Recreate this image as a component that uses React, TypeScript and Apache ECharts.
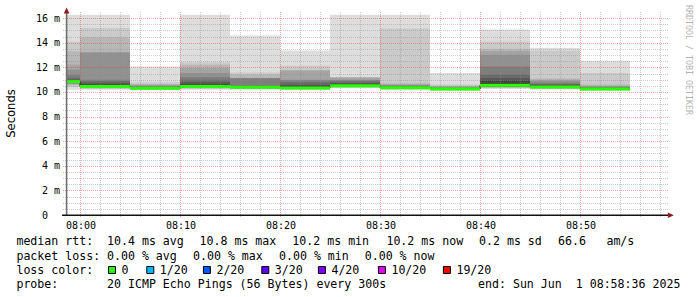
import React, { useEffect, useRef } from 'react';
import * as echarts from 'echarts';

// time in minutes relative to 08:00
const X_MIN = -1.4; // 07:58:36
const X_MAX = 58.6; // 08:58:36
const Y_MAX = 16.5; // ms

const blockStart = [-5, 0, 5, 10, 15, 20, 25, 30, 35, 40, 45, 50];
const blockLen = 5;
const medianRtt = [10.84, 10.45, 10.3, 10.45, 10.38, 10.33, 10.5, 10.35, 10.24, 10.55, 10.4, 10.24];

// sorted ping values per block: upper half (outermost first), lower half (outermost first)
const upperPings: number[][] = [
  [16.28, 14.1, 13.3, 12.22, 11.8, 11.4, 11.15, 11.0, 10.95, 10.9],
  [16.28, 15.2, 14.44, 13.22, 13.2, 11.0, 10.9, 10.73, 10.6, 10.5],
  [12.08, 10.78, 10.65, 10.59, 10.52, 10.46, 10.42, 10.38, 10.35, 10.33],
  [16.28, 12.41, 12.22, 11.95, 11.54, 11.22, 11.0, 10.78, 10.6, 10.5],
  [14.58, 11.59, 11.41, 11.14, 11.13, 11.12, 10.51, 10.48, 10.46, 10.44],
  [13.38, 12.14, 11.76, 11.74, 11.0, 10.95, 10.8, 10.59, 10.5, 10.42],
  [16.28, 11.22, 11.2, 11.15, 11.0, 10.95, 10.86, 10.73, 10.65, 10.58],
  [16.28, 15.15, 10.7, 10.62, 10.55, 10.5, 10.46, 10.43, 10.4, 10.38],
  [11.54, 10.6, 10.5, 10.44, 10.4, 10.35, 10.32, 10.29, 10.27, 10.26],
  [15.07, 14.11, 13.5, 13.33, 13.03, 12.08, 11.41, 11.14, 10.92, 10.7],
  [13.58, 13.38, 11.1, 11.0, 10.9, 10.75, 10.65, 10.59, 10.5, 10.45],
  [12.54, 11.54, 10.6, 10.5, 10.44, 10.4, 10.35, 10.31, 10.28, 10.26],
];
const lowerPings: number[][] = [
  [10.19, 10.41, 10.55, 10.62, 10.68, 10.72, 10.75, 10.78, 10.8, 10.83],
  [10.19, 10.25, 10.3, 10.33, 10.36, 10.38, 10.4, 10.42, 10.43, 10.44],
  [10.15, 10.18, 10.2, 10.22, 10.24, 10.25, 10.26, 10.27, 10.28, 10.29],
  [10.19, 10.25, 10.3, 10.33, 10.36, 10.38, 10.4, 10.42, 10.43, 10.44],
  [10.19, 10.25, 10.28, 10.3, 10.31, 10.32, 10.33, 10.34, 10.35, 10.36],
  [10.15, 10.2, 10.23, 10.25, 10.27, 10.28, 10.29, 10.3, 10.31, 10.32],
  [10.3, 10.35, 10.38, 10.4, 10.42, 10.44, 10.45, 10.46, 10.47, 10.48],
  [10.18, 10.22, 10.25, 10.27, 10.29, 10.3, 10.31, 10.32, 10.33, 10.34],
  [10.1, 10.13, 10.15, 10.17, 10.19, 10.2, 10.21, 10.22, 10.23, 10.24],
  [10.24, 10.3, 10.35, 10.38, 10.4, 10.42, 10.44, 10.46, 10.48, 10.5],
  [10.2, 10.24, 10.27, 10.3, 10.32, 10.34, 10.35, 10.36, 10.37, 10.38],
  [10.1, 10.13, 10.15, 10.17, 10.19, 10.2, 10.21, 10.22, 10.23, 10.24],
];

const xMajorTicks = [0, 10, 20, 30, 40, 50];
const xTickLabels = ['08:00', '08:10', '08:20', '08:30', '08:40', '08:50'];
const xMinorStep = 2;
const yMinorStep = 0.5;
const yMajorStep = 2;

const rttLabels = ['median rtt:', '10.4 ms avg', '10.8 ms max', '10.2 ms min', '10.2 ms now', '0.2 ms sd', '66.6', 'am/s'];
const lossLabels = ['packet loss:', '0.00 % avg', '0.00 % max', '0.00 % min', '0.00 % now'];
const lossColorNames = ['0', '1/20', '2/20', '3/20', '4/20', '10/20', '19/20'];
const lossColors = ['#26ff00', '#00b8ff', '#0059ff', '#5e00ff', '#7e00ff', '#dd00ff', '#ff0000'];
const probeLabels = ['probe:', '20 ICMP Echo Pings (56 Bytes) every 300s', 'end: Sun Jun  1 08:58:36 2025'];

const MONO = '"DejaVu Sans Mono", monospace';
const SANS = '"DejaVu Sans", sans-serif';
const MINOR = 'rgba(140,140,140,0.45)';
const MAJOR = 'rgba(230,60,60,0.45)';
const ARROW = '#8e1a1a';

function grey(level: number) {
  const c = Math.floor((190 / 10) * (10 - level)) + 50;
  const h = c.toString(16).padStart(2, '0');
  return '#' + h + h + h;
}

function buildOption() {
  const smoke: number[][] = [];
  const green: number[][] = [];
  const medLine: number[][] = [];
  blockStart.forEach((s, b) => {
    const x0 = Math.max(s, X_MIN);
    const x1 = Math.min(s + blockLen, X_MAX);
    for (let i = 0; i < 10; i++) {
      smoke.push([x0, x1, lowerPings[b][i], upperPings[b][i], i + 1]);
    }
    green.push([x0, x1, medianRtt[b]]);
    medLine.push([x0, medianRtt[b]]);
    medLine.push([x1, medianRtt[b]]);
  });

  const gridData: number[][] = [];
  for (let m = 0; m <= X_MAX; m += xMinorStep) {
    gridData.push([0, m, m % 10 === 0 ? 1 : 0]);
  }
  for (let k = 1; k * yMinorStep <= 16; k++) {
    const v = k * yMinorStep;
    gridData.push([1, v, v % yMajorStep === 0 ? 1 : 0]);
  }

  const textEl = (text: string, x: number, y: number, extra: any = {}) => ({
    type: 'text',
    x,
    y,
    z: 20,
    style: {
      text,
      fontFamily: MONO,
      fontSize: 11.6,
      fill: '#000',
      align: 'left',
      verticalAlign: 'middle',
      ...extra,
    },
  });

  const L1 = 241, L2 = 255.6, L3 = 270, L4 = 284.4;
  const rttX = [16.4, 107, 199.5, 292.3, 386.4, 479, 558, 606.4];
  const lossX = [16.4, 107, 193, 279, 364.7];
  const boxX = [108.5, 146.8, 203.4, 261.8, 318.4, 378.4, 443.4];
  const boxTextX = [121.5, 159.8, 216.4, 274.8, 331.4, 391.4, 456.4];
  const probeX = [16.4, 107, 478];

  const graphics: any[] = [];
  rttLabels.forEach((t, i) => graphics.push(textEl(t, rttX[i], L1)));
  lossLabels.forEach((t, i) => graphics.push(textEl(t, lossX[i], L2)));
  graphics.push(textEl('loss color:', 16.4, L3));
  lossColorNames.forEach((t, i) => {
    graphics.push({
      type: 'rect', z: 20,
      shape: { x: boxX[i], y: L3 - 3.5, width: 7, height: 7 },
      style: { fill: lossColors[i], stroke: '#000', lineWidth: 1 },
    });
    graphics.push(textEl(t, boxTextX[i], L3));
  });
  probeLabels.forEach((t, i) => graphics.push(textEl(t, probeX[i], L4)));

  // Y axis title and watermark
  graphics.push({
    type: 'text', x: 11, y: 113.5, rotation: Math.PI / 2, z: 20,
    style: { text: 'Seconds', fontFamily: SANS, fontSize: 11.6, fill: '#000', align: 'center', verticalAlign: 'middle' },
  });
  graphics.push({
    type: 'text', x: 688.5, y: 60, rotation: -Math.PI / 2, z: 20,
    style: { text: 'RRDTOOL / TOBI OETIKER', fontFamily: MONO, fontSize: 8.3, fill: '#b4b4b4', align: 'center', verticalAlign: 'middle' },
  });
  // axes
  graphics.push({ type: 'line', z: 15, shape: { x1: 66.6, y1: 215, x2: 66.6, y2: 12 }, style: { stroke: '#707070', lineWidth: 1.6 } });
  graphics.push({ type: 'line', z: 15, shape: { x1: 62, y1: 215.2, x2: 669, y2: 215.2 }, style: { stroke: '#111', lineWidth: 1.6 } });
  graphics.push({ type: 'polygon', z: 16, shape: { points: [[66.6, 7.5], [63.8, 13.5], [69.4, 13.5]] }, style: { fill: ARROW } });
  graphics.push({ type: 'polygon', z: 16, shape: { points: [[673.8, 215.2], [667.8, 212.4], [667.8, 218]] }, style: { fill: ARROW } });

  return {
    animation: false,
    backgroundColor: '#ffffff',
    grid: { left: 66, top: 12, width: 600, height: 203, containLabel: false },
    xAxis: { type: 'value', min: X_MIN, max: X_MAX, show: false },
    yAxis: {
      type: 'value', min: 0, max: Y_MAX, interval: 2,
      axisLine: { show: false }, axisTick: { show: false }, splitLine: { show: false },
      axisLabel: {
        show: true, margin: 6, showMaxLabel: false,
        fontFamily: MONO, fontSize: 10, color: '#000',
        formatter: (v: number) => (v === 0 ? '{z|0}' : v % 2 === 0 && v <= 16 ? v + ' m' : ''),
        rich: { z: { fontFamily: MONO, fontSize: 10, color: '#000', padding: [0, 12, 0, 0] } },
      },
    },
    series: [
      {
        type: 'custom', name: 'smoke', z: 2, silent: true,
        data: smoke,
        renderItem: (params: any, api: any) => {
          const p0 = api.coord([api.value(0), api.value(3)]);
          const p1 = api.coord([api.value(1), api.value(2)]);
          const lvl = api.value(4);
          return {
            type: 'rect', z2: lvl,
            shape: { x: p0[0], y: p0[1], width: p1[0] - p0[0], height: p1[1] - p0[1] },
            style: { fill: grey(lvl) },
          };
        },
      },
      {
        type: 'custom', name: 'grid', z: 3, silent: true,
        data: gridData,
        renderItem: (params: any, api: any) => {
          const cs = params.coordSys;
          const dir = api.value(0), v = api.value(1), major = api.value(2);
          const stroke = major ? MAJOR : MINOR;
          if (dir === 0) {
            const p = api.coord([v, 0]);
            const x = Math.round(p[0]) + 0.5;
            return { type: 'line', shape: { x1: x, y1: cs.y, x2: x, y2: cs.y + cs.height + 3 }, style: { stroke, lineWidth: 1, lineDash: [1, 1] } };
          }
          const p = api.coord([X_MIN, v]);
          const y = Math.round(p[1]) + 0.5;
          return { type: 'line', shape: { x1: cs.x - 3, y1: y, x2: cs.x + cs.width + 2, y2: y }, style: { stroke, lineWidth: 1, lineDash: [1, 1] } };
        },
      },
      {
        type: 'custom', name: 'xlabels', z: 3, silent: true,
        data: xMajorTicks.map((m, i) => [m, 0, i]),
        renderItem: (params: any, api: any) => {
          const p = api.coord([api.value(0), 0]);
          return {
            type: 'text', x: p[0] + 1, y: p[1] + 10,
            style: { text: xTickLabels[api.value(2)], fontFamily: MONO, fontSize: 10, fill: '#000', align: 'center', verticalAlign: 'middle', textAlign: 'center', textVerticalAlign: 'middle' },
          };
        },
      },
      {
        type: 'line', name: 'median', z: 4, silent: true,
        data: medLine, symbol: 'none',
        lineStyle: { color: '#202020', width: 1 },
      },
      {
        type: 'custom', name: 'loss', z: 5, silent: true,
        data: green,
        renderItem: (params: any, api: any) => {
          const p0 = api.coord([api.value(0), api.value(2)]);
          const p1 = api.coord([api.value(1), api.value(2)]);
          return {
            type: 'rect',
            shape: { x: p0[0], y: p0[1] - 1.5, width: p1[0] - p0[0], height: 3 },
            style: { fill: lossColors[0] },
          };
        },
      },
    ],
    graphic: graphics,
  };
}

export default function App() {
  const ref = useRef<HTMLDivElement>(null);
  useEffect(() => {
    const chart = echarts.init(ref.current!, undefined, { renderer: 'svg' });
    chart.setOption(buildOption() as any);
    return () => chart.dispose();
  }, []);
  return (
    <div
      ref={ref}
      style={{ position: 'absolute', left: 0, top: 0, width: 697, height: 297, background: '#fff' }}
    />
  );
}
